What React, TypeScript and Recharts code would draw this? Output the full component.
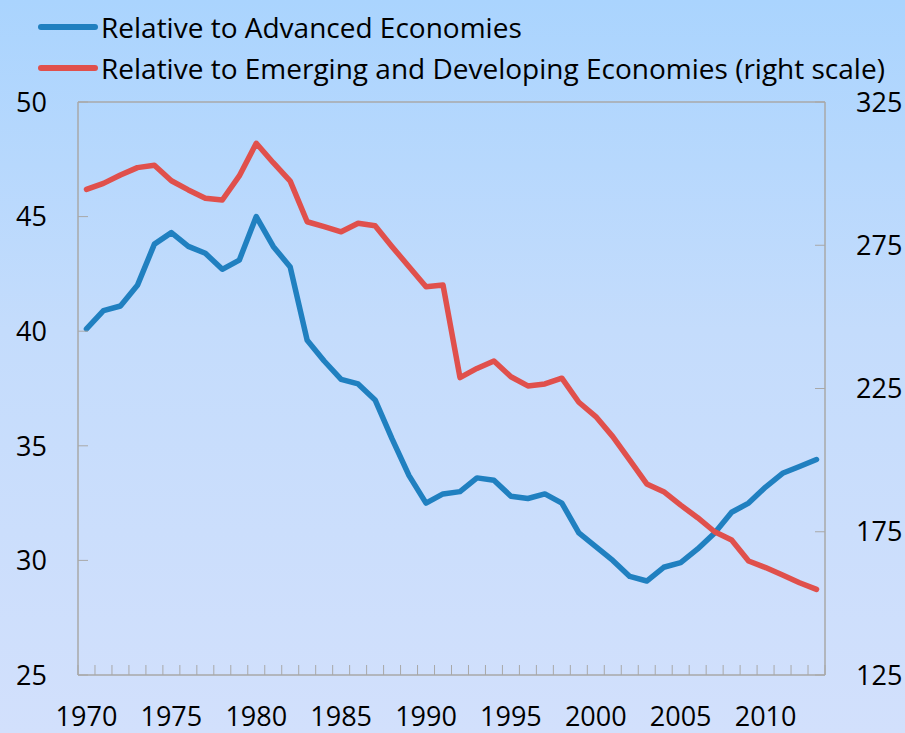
import React from 'react'
import {
  LineChart,
  Line,
  XAxis,
  YAxis,
  Legend,
  ReferenceLine,
} from 'recharts'

const years = [
  1970, 1971, 1972, 1973, 1974, 1975, 1976, 1977, 1978, 1979,
  1980, 1981, 1982, 1983, 1984, 1985, 1986, 1987, 1988, 1989,
  1990, 1991, 1992, 1993, 1994, 1995, 1996, 1997, 1998, 1999,
  2000, 2001, 2002, 2003, 2004, 2005, 2006, 2007, 2008, 2009,
  2010, 2011, 2012, 2013,
]

// left scale
const advanced = [
  40.1, 40.9, 41.1, 42.0, 43.8, 44.3, 43.7, 43.4, 42.7, 43.1,
  45.0, 43.7, 42.8, 39.6, 38.7, 37.9, 37.7, 37.0, 35.3, 33.7,
  32.5, 32.9, 33.0, 33.6, 33.5, 32.8, 32.7, 32.9, 32.5, 31.2,
  30.6, 30.0, 29.3, 29.1, 29.7, 29.9, 30.5, 31.2, 32.1, 32.5,
  33.2, 33.8, 34.1, 34.4,
]

// right scale
const emerging = [
  294.5, 296.6, 299.5, 302.1, 302.9, 297.5, 294.3, 291.4, 290.8, 299.2,
  310.6, 303.8, 297.4, 283.2, 281.5, 279.7, 282.7, 281.8, 274.5, 267.5,
  260.5, 261.1, 228.8, 232.0, 234.6, 229.1, 225.9, 226.6, 228.6, 220.2,
  215.2, 208.2, 200.0, 191.7, 189.0, 184.3, 179.9, 175.0, 172.1, 164.8,
  162.5, 159.9, 157.2, 154.9,
]

const leftTicks = [25, 30, 35, 40, 45, 50]
const rightTicks = [125, 175, 225, 275, 325]
const labelYears = [1970, 1975, 1980, 1985, 1990, 1995, 2000, 2005, 2010]

const seriesNames = [
  'Relative to Advanced Economies',
  'Relative to Emerging and Developing Economies (right scale)',
]

const BLUE = '#2080c0'
const RED = '#e0504c'
const AXIS = '#a8a8a8'
const FONT = '"Open Sans", "Noto Sans", sans-serif'

const data = years.map((year, i) => ({
  year,
  advanced: advanced[i],
  emerging: emerging[i],
}))

// x ticks: marks between years, labels on every fifth year
const xTicks = [...years.map((y) => y - 0.5), years[years.length - 1] + 0.5, ...labelYears].sort((a, b) => a - b)

const XTick = (props: any) => {
  const { x, y, payload } = props
  const v = payload.value
  if (Number.isInteger(v)) {
    return (
      <text x={x} y={y + 51} textAnchor="middle" fontSize={27} fill="#000" fontFamily={FONT}>
        {v}
      </text>
    )
  }
  return <line x1={x} x2={x} y1={y} y2={y - 10} stroke={AXIS} strokeWidth={1} />
}

const LeftTick = (props: any) => {
  const { x, y, payload } = props
  return (
    <g>
      <line x1={x} x2={x + 10} y1={y} y2={y} stroke={AXIS} strokeWidth={1} />
      <text x={x - 31} y={y} dy="0.36em" textAnchor="end" fontSize={27} fill="#000" fontFamily={FONT}>
        {payload.value}
      </text>
    </g>
  )
}

const RightTick = (props: any) => {
  const { x, y, payload } = props
  return (
    <g>
      <line x1={x} x2={x - 10} y1={y} y2={y} stroke={AXIS} strokeWidth={1} />
      <text x={x + 31} y={y} dy="0.36em" textAnchor="start" fontSize={27} fill="#000" fontFamily={FONT}>
        {payload.value}
      </text>
    </g>
  )
}

const ChartLegend = () => {
  const colors = [BLUE, RED]
  return (
    <div style={{ fontFamily: FONT, fontSize: 28, color: '#000' }}>
      {seriesNames.map((name, i) => (
        <div key={name} style={{ display: 'flex', alignItems: 'center', height: 41, whiteSpace: 'nowrap' }}>
          <svg width={60} height={10} style={{ marginLeft: 38, marginRight: 3 }}>
            <line x1={3} x2={57} y1={5} y2={5} stroke={colors[i]} strokeWidth={6} strokeLinecap="round" />
          </svg>
          <span>{name}</span>
        </div>
      ))}
    </div>
  )
}

export default function App() {
  return (
    <div
      style={{
        width: 905,
        height: 733,
        position: 'absolute',
        left: 0,
        top: 0,
        background: 'linear-gradient(180deg, #aad4fe 0%, #c4dcfc 45%, #d2e0fc 100%)',
      }}
    >
      <LineChart width={905} height={733} data={data} margin={{ top: 102, right: 0, left: 0, bottom: 0 }}>
        <XAxis
          dataKey="year"
          type="number"
          domain={[1969.5, 2013.5]}
          ticks={xTicks}
          interval={0}
          height={58}
          tickSize={0}
          tickMargin={0}
          tickLine={false}
          tick={<XTick />}
          axisLine={{ stroke: AXIS, strokeWidth: 1.5 }}
        />
        <YAxis
          yAxisId="left"
          domain={[25, 50]}
          ticks={leftTicks}
          interval={0}
          width={78}
          tickSize={0}
          tickMargin={0}
          tickLine={false}
          tick={<LeftTick />}
          axisLine={{ stroke: AXIS, strokeWidth: 1.5 }}
        />
        <YAxis
          yAxisId="right"
          orientation="right"
          domain={[125, 325]}
          ticks={rightTicks}
          interval={0}
          width={80}
          tickSize={0}
          tickMargin={0}
          tickLine={false}
          tick={<RightTick />}
          axisLine={{ stroke: AXIS, strokeWidth: 1.5 }}
        />
        <ReferenceLine yAxisId="left" y={50} stroke={AXIS} strokeWidth={1.5} />
        <Legend
          layout="horizontal"
          verticalAlign="middle"
          align="center"
          content={<ChartLegend />}
          wrapperStyle={{ top: 6, left: 0, width: 905 }}
        />
        <Line
          yAxisId="left"
          dataKey="advanced"
          name={seriesNames[0]}
          stroke={BLUE}
          strokeWidth={5.5}
          dot={false}
          strokeLinejoin="round"
          strokeLinecap="round"
          isAnimationActive={false}
        />
        <Line
          yAxisId="right"
          dataKey="emerging"
          name={seriesNames[1]}
          stroke={RED}
          strokeWidth={5.5}
          dot={false}
          strokeLinejoin="round"
          strokeLinecap="round"
          isAnimationActive={false}
        />
      </LineChart>
    </div>
  )
}
